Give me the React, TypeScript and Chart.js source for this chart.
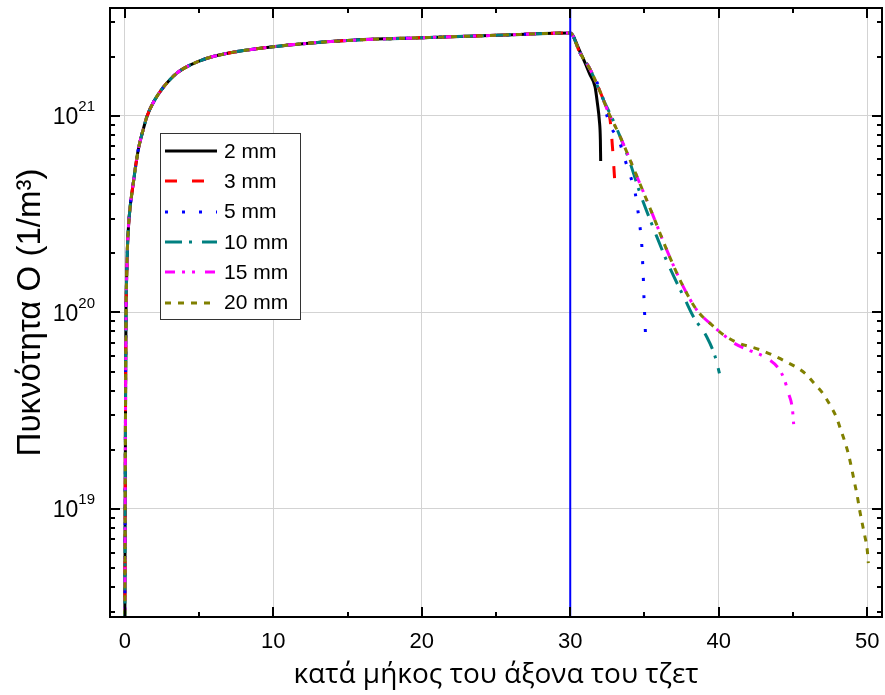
import React, { useEffect, useRef } from 'react';
import { Chart, registerables } from 'chart.js';

Chart.register(...registerables);

// ---- Data ----
// Common rising profile shared by all jet widths (x along the axis, y in 1/m^3)
const riseX = [0, 0.02, 0.05, 0.08, 0.12, 0.18, 0.3, 0.56, 0.9, 1.25, 1.5, 2, 2.5, 3, 3.5, 4, 5, 6, 7, 8, 10, 12, 15, 20, 25, 30];
const riseY = [2.5e18, 1e19, 4e19, 1e20, 1.5e20, 2.2e20, 3.1e20, 4.5e20, 6.7e20, 8.6e20, 1.0e21, 1.2e21, 1.37e21, 1.52e21, 1.65e21, 1.75e21, 1.9e21, 2.01e21, 2.09e21, 2.15e21, 2.25e21, 2.33e21, 2.42e21, 2.5e21, 2.57e21, 2.64e21];

// Shared start of the decay after x = 30
const decayX = [30.66, 31.33, 32.23];
const decayY = [2.09e21, 1.73e21, 1.21e21];

// Shared part of 15 mm and 20 mm decay
const wideX = [32.46, 33.36, 34.59, 35.6, 36.5, 37.62, 38.52, 39.64, 40.32];
const wideY = [1.09e21, 7.85e20, 4.72e20, 3.08e20, 2.08e20, 1.35e20, 1.03e20, 8.5e19, 7.7e19];

const tail2X = [30.66, 31.0, 31.33, 31.67, 31.83, 31.96, 32.03, 32.05];
const tail2Y = [2.12e21, 1.86e21, 1.62e21, 1.41e21, 1.16e21, 9.5e20, 7.55e20, 5.9e20];

const tail3X = [32.5, 32.68, 32.86, 33.02];
const tail3Y = [1.06e21, 9.6e20, 6.7e20, 4.4e20];

const tail5X = [32.35, 32.68, 33.31, 33.65, 34.03, 34.37, 34.55, 34.7, 34.82, 34.88, 34.93, 34.97, 35.02, 35.07];
const tail5Y = [1.09e21, 9.0e20, 7.4e20, 6.1e20, 5.0e20, 4.07e20, 3.33e20, 2.72e20, 2.2e20, 1.78e20, 1.45e20, 1.17e20, 9.5e19, 7.7e19];

const tail10X = [33.0, 33.92, 34.7, 35.83, 36.61, 37.74, 38.3, 39.2, 39.76, 40.05];
const tail10Y = [9.1e20, 6.1e20, 4.05e20, 2.43e20, 1.75e20, 1.16e20, 9.5e19, 7.5e19, 5.96e19, 4.9e19];

const tail15X = [41.0, 42.1, 43.24, 44.02, 44.4, 44.7, 44.97, 45.05];
const tail15Y = [7.0e19, 6.4e19, 5.85e19, 5.2e19, 4.6e19, 3.88e19, 3.2e19, 2.7e19];

const tail20X = [41.2, 42.79, 44.36, 45.82, 46.38, 47.01, 47.5, 47.91, 48.23, 48.52, 48.77, 48.97, 49.15, 49.33, 49.48, 49.66, 49.84, 50.0, 50.08];
const tail20Y = [7.05e19, 6.45e19, 5.7e19, 4.9e19, 4.4e19, 3.88e19, 3.38e19, 2.95e19, 2.52e19, 2.17e19, 1.86e19, 1.59e19, 1.36e19, 1.17e19, 1.0e19, 8.5e18, 7.3e18, 6.25e18, 5.3e18];

const seriesLabels = ['2 mm', '3 mm', '5 mm', '10 mm', '15 mm', '20 mm'];
const seriesX = [
  [...riseX, ...tail2X],
  [...riseX, ...decayX, ...tail3X],
  [...riseX, ...decayX, ...tail5X],
  [...riseX, ...decayX, ...tail10X],
  [...riseX, ...decayX, ...wideX, ...tail15X],
  [...riseX, ...decayX, ...wideX, ...tail20X],
];
const seriesY = [
  [...riseY, ...tail2Y],
  [...riseY, ...decayY, ...tail3Y],
  [...riseY, ...decayY, ...tail5Y],
  [...riseY, ...decayY, ...tail10Y],
  [...riseY, ...decayY, ...wideY, ...tail15Y],
  [...riseY, ...decayY, ...wideY, ...tail20Y],
];

const markerX = 30; // vertical blue line position

const xTickValues = [0, 10, 20, 30, 40, 50];
const yTickValues = [1e19, 1e20, 1e21];
const yTickBases = ['10', '10', '10'];
const yTickExponents = ['19', '20', '21'];

const xMin = -1;
const xMax = 51;
const yMin = 2.82e18;
const yMax = 3.54e21;

const xTitle = 'κατά μήκος του άξονα του τζετ';
const yTitle = 'Πυκνότητα Ο (1/m\u00B3)';

// ---- Styles ----
const colors = ['#000000', '#ff0000', '#0000ff', '#008080', '#ff00ff', '#808000'];
const dashes = [[], [12, 15], [3, 14], [17, 7, 3, 10], [10, 7, 3, 7, 3, 10], [6, 7]];
const FONT = "'Liberation Sans', Arial, sans-serif";

export default function App() {
  const ref = useRef<HTMLCanvasElement>(null);

  useEffect(() => {
    const canvas = ref.current;
    if (!canvas) return;

    const frameTicks = {
      id: 'frameTicks',
      afterDatasetsDraw(chart: any) {
        const { ctx, chartArea } = chart;
        const { left, right, top, bottom } = chartArea;
        const xs = chart.scales.x;
        const ys = chart.scales.y;
        ctx.save();
        ctx.strokeStyle = '#000';
        ctx.lineWidth = 2;
        ctx.setLineDash([]);
        ctx.beginPath();
        for (let v = 0; v <= 50; v += 5) {
          const len = v % 10 === 0 ? 10 : 5;
          const px = Math.round(xs.getPixelForValue(v));
          ctx.moveTo(px, bottom);
          ctx.lineTo(px, bottom - len);
          ctx.moveTo(px, top);
          ctx.lineTo(px, top + len);
        }
        for (let d = 18; d <= 21; d++) {
          for (let k = 1; k <= 9; k++) {
            const v = k * Math.pow(10, d);
            if (v < yMin || v > yMax) continue;
            const len = k === 1 ? 10 : 5;
            const py = Math.round(ys.getPixelForValue(v));
            ctx.moveTo(left, py);
            ctx.lineTo(left + len, py);
            ctx.moveTo(right, py);
            ctx.lineTo(right - len, py);
          }
        }
        ctx.stroke();
        ctx.strokeRect(left, top, right - left, bottom - top);

        // y tick labels with superscript exponents
        ctx.fillStyle = '#000';
        ctx.textBaseline = 'middle';
        yTickValues.forEach((v, i) => {
          const py = ys.getPixelForValue(v);
          ctx.font = `15px ${FONT}`;
          ctx.textAlign = 'right';
          const expW = ctx.measureText(yTickExponents[i]).width;
          const xr = left - 15;
          ctx.fillText(yTickExponents[i], xr, py - 9);
          ctx.font = `23px ${FONT}`;
          ctx.fillText(yTickBases[i], xr - expW, py + 2);
        });
        ctx.restore();
      },
    };

    const legendBox = {
      id: 'legendBox',
      afterDraw(chart: any) {
        const { ctx } = chart;
        const bx = 160, by = 133, bw = 140, bh = 186;
        ctx.save();
        ctx.fillStyle = '#ffffff';
        ctx.fillRect(bx, by, bw, bh);
        ctx.strokeStyle = '#333333';
        ctx.lineWidth = 1;
        ctx.strokeRect(bx + 0.5, by + 0.5, bw, bh);
        ctx.font = `21px ${FONT}`;
        ctx.textBaseline = 'middle';
        ctx.textAlign = 'left';
        seriesLabels.forEach((lab, i) => {
          const cy = 151 + i * 30.3;
          ctx.strokeStyle = colors[i];
          ctx.lineWidth = 3;
          ctx.setLineDash(dashes[i]);
          ctx.beginPath();
          ctx.moveTo(165, Math.round(cy));
          ctx.lineTo(217, Math.round(cy));
          ctx.stroke();
          ctx.setLineDash([]);
          ctx.fillStyle = '#000';
          ctx.fillText(lab, 224, cy + 1);
        });
        ctx.restore();
      },
    };

    const datasets: any[] = seriesLabels.map((label, i) => ({
      label,
      data: seriesX[i].map((x, j) => ({ x, y: seriesY[i][j] })),
      borderColor: colors[i],
      backgroundColor: colors[i],
      borderWidth: 3,
      borderDash: dashes[i],
      pointRadius: 0,
      fill: false,
      cubicInterpolationMode: 'monotone',
      order: seriesLabels.length - i,
    }));
    datasets.push({
      label: 'x = 30',
      data: [
        { x: markerX, y: yMin },
        { x: markerX, y: yMax },
      ],
      borderColor: '#0000ff',
      borderWidth: 2,
      pointRadius: 0,
      fill: false,
      order: -1,
    });

    const chart = new Chart(canvas, {
      type: 'line',
      data: { datasets },
      options: {
        animation: false,
        responsive: false,
        layout: { padding: { top: 8, right: 3, left: 0, bottom: 0 } },
        plugins: {
          legend: { display: false },
          tooltip: { enabled: false },
        },
        scales: {
          x: {
            type: 'linear',
            min: xMin,
            max: xMax,
            afterBuildTicks: (s: any) => {
              s.ticks = xTickValues.map((v) => ({ value: v }));
            },
            afterFit: (s: any) => {
              s.height = 78;
              s.paddingLeft = 0;
              s.paddingRight = 0;
            },
            grid: { color: '#d3d3d3', lineWidth: 1, drawTicks: false },
            border: { display: false },
            ticks: {
              color: '#000',
              font: { family: FONT, size: 22 },
              padding: 12,
              maxRotation: 0,
              autoSkip: false,
            },
            title: {
              display: true,
              text: xTitle,
              color: '#000',
              font: { family: "'Open Sans', 'Liberation Sans', sans-serif", size: 28 },
              padding: { top: 0, bottom: 3 },
            },
          },
          y: {
            type: 'logarithmic',
            min: yMin,
            max: yMax,
            afterBuildTicks: (s: any) => {
              s.ticks = yTickValues.map((v) => ({ value: v, major: true }));
            },
            afterFit: (s: any) => {
              s.width = 110;
              s.paddingTop = 0;
              s.paddingBottom = 0;
            },
            grid: { color: '#d3d3d3', lineWidth: 1, drawTicks: false },
            border: { display: false },
            ticks: { display: false },
            title: {
              display: true,
              text: yTitle,
              color: '#000',
              font: { family: FONT, size: 33 },
              padding: { top: 11, bottom: 0 },
            },
          },
        },
      },
      plugins: [frameTicks, legendBox],
    });

    return () => chart.destroy();
  }, []);

  return (
    <div style={{ position: 'absolute', left: 0, top: 0, width: 885, height: 695, background: '#fff' }}>
      <canvas ref={ref} width={885} height={695} style={{ display: 'block' }} />
    </div>
  );
}
